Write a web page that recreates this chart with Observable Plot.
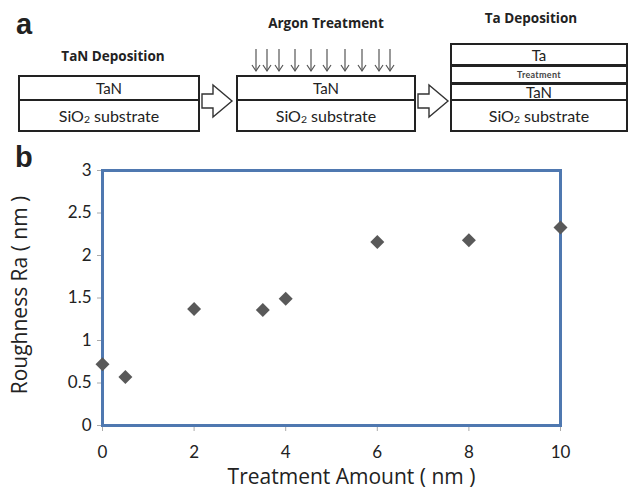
<!DOCTYPE html>
<html>
<head>
<meta charset="utf-8">
<script src="https://cdn.jsdelivr.net/npm/d3@7"></script>
<script src="https://cdn.jsdelivr.net/npm/@observablehq/plot@0.6"></script>
<style>
  html, body { margin: 0; padding: 0; background: #fff; }
  #wrap { position: relative; width: 629px; height: 493px; overflow: hidden; font-family: Lato, "Open Sans", sans-serif; color: #222; }
  .panel { position: absolute; font-family: "Liberation Sans", Arial, sans-serif; font-weight: bold; font-size: 29px; line-height: 1; }
  .title { position: absolute; font-family: "Open Sans", sans-serif; font-weight: bold; font-size: 13.5px; text-align: center; white-space: nowrap; transform: translateX(-50%); }
  .box { position: absolute; border: 2px solid #222; box-sizing: border-box; background: #fff; display: flex; flex-direction: column; }
  .layer { border-bottom: 2px solid #222; box-sizing: border-box; display: flex; align-items: center; justify-content: center; white-space: nowrap; }
  .layer:last-child { border-bottom: none; flex: 1; }
  .tan { font-size: 15px; }
  .sio { font-size: 16px; }
  .treat { font-size: 9px; font-weight: bold; color: #444; letter-spacing: 0.3px; }
  .sub { font-size: 0.65em; position: relative; top: 0.35em; }
  #chart { position: absolute; left: 0; top: 140px; }
  svg.deco { position: absolute; left: 0; top: 0; overflow: visible; }
</style>
</head>
<body>
<div id="wrap">
  <div class="panel" style="left:16px; top:10px;">a</div>
  <div class="title" style="left:113px; top:47px;">TaN Deposition</div>
  <div class="title" style="left:326px; top:14px;">Argon Treatment</div>
  <div class="title" style="left:531px; top:9px;">Ta Deposition</div>

  <div class="box" style="left:18px; top:75px; width:182px; height:57px;">
    <div class="layer tan" style="height:24px;">TaN</div>
    <div class="layer sio">SiO<span class="sub">2</span>&nbsp;substrate</div>
  </div>
  <div class="box" style="left:236px; top:75px; width:180px; height:57px;">
    <div class="layer tan" style="height:24px;">TaN</div>
    <div class="layer sio">SiO<span class="sub">2</span>&nbsp;substrate</div>
  </div>
  <div class="box" style="left:450px; top:43px; width:178px; height:89px;">
    <div class="layer tan" style="height:22px; border-bottom-width:3px;">Ta</div>
    <div class="layer treat" style="height:18px; border-bottom-width:3px;">Treatment</div>
    <div class="layer tan" style="height:16px;">TaN</div>
    <div class="layer sio">SiO<span class="sub">2</span>&nbsp;substrate</div>
  </div>
  <svg class="deco" id="deco" width="629" height="140"></svg>

  <div class="panel" style="left:15px; top:143px;">b</div>
  <div id="chart"></div>
</div>
<script>
// Data (panel b)
const treatmentAmount = [0, 0.5, 2, 3.5, 4, 6, 8, 10];
const roughnessRa = [0.72, 0.57, 1.37, 1.36, 1.49, 2.16, 2.18, 2.33];
const xTicks = [0, 2, 4, 6, 8, 10];
const yTicks = [0, 0.5, 1, 1.5, 2, 2.5, 3];

// Schematic decorations (panel a): block arrows and argon arrows
const deco = d3.select("#deco");
const argonX = [256, 267, 279, 295, 311, 327, 345, 362, 379, 390];
for (const x of argonX) {
  deco.append("line").attr("x1", x).attr("x2", x).attr("y1", 49).attr("y2", 71)
    .attr("stroke", "#555").attr("stroke-width", 1.2);
  deco.append("path").attr("d", `M${x-4},${65} L${x},${71} L${x+4},${65}`)
    .attr("fill", "none").attr("stroke", "#555").attr("stroke-width", 1.2);
}
for (const x0 of [202, 418]) {
  const p = [[x0,94],[x0+11,94],[x0+11,85],[x0+30,101],[x0+11,117],[x0+11,108],[x0,108]];
  deco.append("polygon").attr("points", p.map(d => d.join(",")).join(" "))
    .attr("fill", "#fff").attr("stroke", "#333").attr("stroke-width", 1.4);
}

const data = treatmentAmount.map((t, i) => ({t, r: roughnessRa[i]}));
const fmt = d3.format("~g");

const chart = Plot.plot({
  width: 629,
  height: 353,
  marginLeft: 102,
  marginRight: 69,
  marginTop: 30,
  marginBottom: 68,
  style: { fontFamily: "Lato, 'Open Sans', sans-serif", fontSize: "17px", color: "#222", background: "transparent", overflow: "visible" },
  x: { domain: [0, 10], ticks: xTicks },
  y: { domain: [0, 3], ticks: yTicks },
  marks: [
    Plot.axisX({ ticks: xTicks, tickFormat: fmt, tickSize: 6, tickPadding: 14, stroke: "#aaa", fill: "#222", label: null, fontSize: 17 }),
    Plot.axisY({ ticks: yTicks, tickFormat: fmt, tickSize: 5, tickPadding: 6, stroke: "#aaa", fill: "#222", label: null, fontSize: 17 }),
    Plot.frame({ stroke: "#4f78b0", strokeWidth: 3 }),
    Plot.dot(data, { x: "t", y: "r", symbol: "diamond2", r: 6.3, fill: "#595959", stroke: "none" }),
    Plot.text(["Treatment Amount ( nm )"], { frameAnchor: "bottom", dy: 58, dx: 20, fontSize: 21, fontFamily: "Open Sans", fill: "#222" }),
    Plot.text(["Roughness Ra ( nm )"], { frameAnchor: "left", textAnchor: "middle", rotate: -90, dx: -82, dy: -3, fontSize: 21, fontFamily: "Open Sans", fill: "#222" })
  ]
});
document.getElementById("chart").appendChild(chart);
</script>
</body>
</html>
